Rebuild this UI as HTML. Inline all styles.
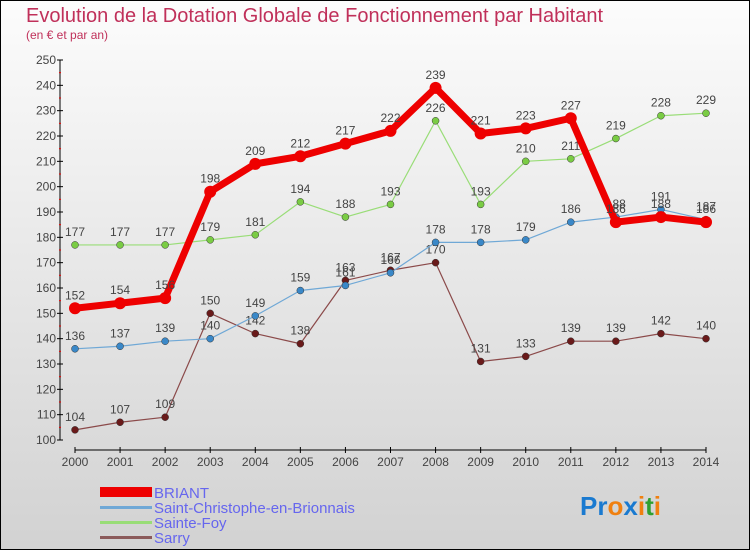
<!DOCTYPE html>
<html><head><meta charset="utf-8"><style>
body{margin:0;width:750px;height:550px;overflow:hidden;font-family:"Liberation Sans",sans-serif}
#wrap{position:absolute;left:0;top:0;width:748px;height:548px;border:1px solid #000;background:linear-gradient(#fcfcfc,#d2d2d2)}
</style></head><body>
<div id="wrap">
<svg id="chart" width="750" height="550" style="position:absolute;left:-1px;top:-1px">
<text x="26" y="22" font-size="20" fill="#c0305a">Evolution de la Dotation Globale de Fonctionnement par Habitant</text>
<text x="26" y="39" font-size="12" fill="#c0305a">(en € et par an)</text>
<g id="axes"></g><g id="series"></g>
<g>
<rect x="100" y="487" width="52" height="10" fill="#e00"/>
<text x="154" y="498" font-size="15" fill="#6666ee">BRIANT</text>
<rect x="100" y="506" width="52" height="3" fill="#6fa8d6"/>
<text x="154" y="513" font-size="15" fill="#6666ee">Saint-Christophe-en-Brionnais</text>
<rect x="100" y="521" width="52" height="3" fill="#99dd77"/>
<text x="154" y="528" font-size="15" fill="#6666ee">Sainte-Foy</text>
<rect x="100" y="536" width="52" height="3" fill="#8b5a5a"/>
<text x="154" y="543" font-size="15" fill="#6666ee">Sarry</text>
</g>
<text x="580" y="515" font-size="26" font-weight="bold"><tspan fill="#1a7ad0">Pr</tspan><tspan fill="#f08010">o</tspan><tspan fill="#1a7ad0">x</tspan><tspan fill="#f08010">i</tspan><tspan fill="#30a030">t</tspan><tspan fill="#f08010">i</tspan></text>
</svg>
</div>
<script>
const years=[2000,2001,2002,2003,2004,2005,2006,2007,2008,2009,2010,2011,2012,2013,2014];
const briant=[152,154,156,198,209,212,217,222,239,221,223,227,186,188,186];
const saintChristophe=[136,137,139,140,149,159,161,166,178,178,179,186,188,191,187];
const sainteFoy=[177,177,177,179,181,194,188,193,226,193,210,211,219,228,229];
const sarry=[104,107,109,150,142,138,163,167,170,131,133,139,139,142,140];
const yTicks=[100,110,120,130,140,150,160,170,180,190,200,210,220,230,240,250];
const NS="http://www.w3.org/2000/svg";
const x=i=>75+i*(631/(years.length-1));
const y=v=>440-(v-100)*(380/150);
function mk(t,a,p){const e=document.createElementNS(NS,t);for(const k in a)e.setAttribute(k,a[k]);p.appendChild(e);return e;}
const ax=document.getElementById('axes');
const yl=mk('line',{x1:60,y1:60,x2:60,y2:440,stroke:'#000','stroke-width':1},ax);


yTicks.forEach(v=>{
 mk('line',{x1:57,x2:63,y1:y(v),y2:y(v),stroke:'#000'},ax);
 if(v<250)mk('line',{x1:59,x2:61,y1:y(v+5),y2:y(v+5),stroke:'#e00'},ax);
 const t=mk('text',{x:56,y:y(v)+4,'font-size':12,fill:'#444','text-anchor':'end'},ax);t.textContent=v;
 
 
});
const xl=mk('line',{x1:75,y1:450,x2:706,y2:450,stroke:'#000','stroke-width':1},ax);


years.forEach((yr,i)=>{
 mk('line',{x1:x(i),x2:x(i),y1:447,y2:453,stroke:'#000'},ax);
 const t=mk('text',{x:x(i),y:466,'font-size':12,fill:'#444','text-anchor':'middle'},ax);t.textContent=yr;
 
 
});
const sg=document.getElementById('series');
function series(data,name,color,w,r,dot){
 const g=mk('g',{},sg);
 
 
 mk('polyline',{points:data.map((v,i)=>x(i)+','+y(v)).join(' '),fill:'none',stroke:color,'stroke-width':w,'stroke-linejoin':'round'},g);
 data.forEach((v,i)=>{
  const c=mk('circle',{cx:x(i),cy:y(v),r:r,fill:dot,stroke:'#333','stroke-width':r>4?0:0.5},g);
  
  
  const t=mk('text',{x:x(i),y:y(v)-9,'font-size':12,fill:'#444','text-anchor':'middle'},g);t.textContent=v;
  
  
 });
}
series(sarry,'sarry','#8b4a4a',1.2,3.5,'#6a1a1a');
series(sainteFoy,'sainte-foy','#99dd77',1.2,3.5,'#7acc44');
series(saintChristophe,'saint-christophe','#6fa8d6',1.2,3.5,'#3a88c8');
series(briant,'briant','#ee0000',7,6,'#ee0000');
</script>
</body></html>
